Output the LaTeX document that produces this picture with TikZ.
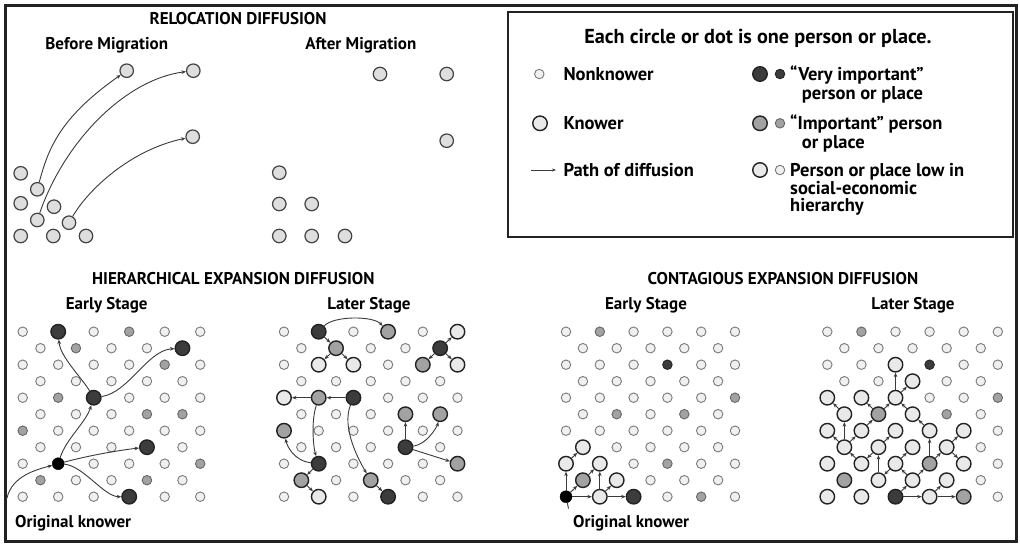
\documentclass[tikz,border=0pt]{standalone}
\usepackage{fontspec}
\setmainfont{PT Sans}
\usetikzlibrary{arrows.meta}
\definecolor{nfill}{HTML}{F0F0F0}
\definecolor{ndraw}{HTML}{7A7A7A}
\definecolor{gfill}{HTML}{A2A2A2}
\definecolor{gdraw}{HTML}{666666}
\definecolor{dfill}{HTML}{3C3C3C}
\definecolor{ddraw}{HTML}{222222}
\definecolor{kfill}{HTML}{E9E9E9}
\definecolor{rfill}{HTML}{DEDEDE}
\definecolor{arcol}{HTML}{3A3A3A}
\newcommand\lattice[4]{%
  \foreach \rowlist [count=\ri from 0] in {#4} {
    \foreach \ty [count=\ci from 0] in \rowlist {
      \pgfmathsetmacro\xx{#2+\ci*#3+mod(\ri,2)*#3/2}
      \pgfmathsetmacro\yy{331.7+\ri*16.5}
      \edef\tmp{\noexpand\node[d\ty] (#1-\ri-\ci) at (\xx,\yy) {};}\tmp
    }
  }
}
\begin{document}
\begin{tikzpicture}[x=1pt,y=-1pt,
  small/.style={circle,inner sep=0pt,minimum size=9.5pt,line width=0.9pt},
  big/.style={circle,inner sep=0pt,minimum size=14.5pt,line width=1.4pt,draw=ddraw},
  dn/.style={small,draw=ndraw,fill=nfill},
  dng/.style={small,draw=gdraw,fill=gfill},
  dnd/.style={small,draw=ddraw,fill=dfill},
  dK/.style={big,fill=kfill},
  dKg/.style={big,fill=gfill},
  dKd/.style={big,fill=dfill},
  dB/.style={circle,inner sep=0pt,minimum size=12pt,fill=black,draw=black},
  rel/.style={circle,inner sep=0pt,minimum size=13.5pt,line width=1.2pt,draw=ddraw!85,fill=rfill},
  ar/.style={draw=arcol,line width=0.9pt,-{Stealth[length=4.5pt,width=3.6pt]}},
  ln/.style={draw=arcol,line width=0.9pt},
  txt/.style={font=\fontsize{17}{19}\selectfont\bfseries,inner sep=0pt},
  lgt/.style={font=\fontsize{18.5}{21}\selectfont\bfseries,inner sep=0pt},
  ttl/.style={font=\fontsize{20.2}{23}\selectfont\bfseries,inner sep=0pt}]
\useasboundingbox (0,0) rectangle (1020,544);
\fill[white] (0,0) rectangle (1020,544);
\draw[line width=2.8pt,draw=ddraw] (5.5,5.5) rectangle (1016.5,541.5);
% ---------- relocation ----------
\node[txt] (relT) at (238,18.3) {RELOCATION DIFFUSION};
\node[txt] (befT) at (106.7,45) {Before Migration};
\node[txt] (aftT) at (360.8,45) {After Migration};
\node[rel] (b1) at (20.7,173.3) {};
\node[rel] (b2) at (37.3,189.3) {};
\node[rel] (b3) at (20.7,203.3) {};
\node[rel] (b4) at (54,206.7) {};
\node[rel] (b5) at (37.3,220) {};
\node[rel] (b6) at (69,222.7) {};
\node[rel] (b7) at (20.7,236) {};
\node[rel] (b8) at (53.3,236) {};
\node[rel] (b9) at (86,236) {};
\node[rel] (t1) at (126.7,70.7) {};
\node[rel] (t2) at (193.3,70.7) {};
\node[rel] (t3) at (192.7,136.7) {};
\draw[ar] (b2) .. controls (48,150) and (58.7,118.3) .. (t1);
\draw[ar] (b5) .. controls (65,140) and (126.3,79.3) .. (t2);
\draw[ar] (b6) .. controls (88,190) and (130,150) .. (t3);
\node[rel] (a1) at (279.3,172.7) {};
\node[rel] (a2) at (279.3,204) {};
\node[rel] (a3) at (311.7,204) {};
\node[rel] (a4) at (279.3,236) {};
\node[rel] (a5) at (311.7,236) {};
\node[rel] (a6) at (345,236) {};
\node[rel] (a7) at (380,74) {};
\node[rel] (a8) at (446.7,74) {};
\node[rel] (a9) at (446.7,140.7) {};
% ---------- legend ----------
\draw[line width=2pt,draw=ddraw] (508.3,11.7) rectangle (1012.7,236.7);
\node[ttl] (legT) at (758,38.3) {Each circle or dot is one person or place.};
\node[dn] (lg1) at (539.3,74) {};
\node[dK] (lg2) at (540,123.3) {};
\coordinate (pa1) at (531,170);
\coordinate (pa2) at (556,170);
\draw[ar,line width=0.7pt,-{Stealth[length=4pt,width=3pt]}] (pa1) -- (pa2);
\node[lgt,anchor=base west] (lt1) at (563.3,80.3) {Nonknower};
\node[lgt,anchor=base west] (lt2) at (563.3,129.6) {Knower};
\node[lgt,anchor=base west] (lt3) at (563.3,176.3) {Path of diffusion};
\node[dKd] (lg3) at (760,74) {};
\node[dnd] (lg4) at (780,74) {};
\node[dKg] (lg5) at (760,123.3) {};
\node[dng] (lg6) at (780,123.3) {};
\node[dK] (lg7) at (760,170) {};
\node[dn] (lg8) at (780,170) {};
\node[lgt,anchor=base west] (rt1) at (790,80.3) {“Very important”};
\node[lgt,anchor=base west] (rt2) at (801.7,99) {person or place};
\node[lgt,anchor=base west] (rt3) at (790,129.6) {“Important” person};
\node[lgt,anchor=base west] (rt4) at (801.7,148) {or place};
\node[lgt,anchor=base west] (rt5) at (790,176.3) {Person or place low in};
\node[lgt,anchor=base west] (rt6) at (790,194.6) {social-economic};
\node[lgt,anchor=base west] (rt7) at (790,211.3) {hierarchy};
% ---------- section titles ----------
\node[txt] (hierT) at (233.3,278.3) {HIERARCHICAL EXPANSION DIFFUSION};
\node[txt] (contT) at (783,278.3) {CONTAGIOUS EXPANSION DIFFUSION};
\node[txt] (h1T) at (106.7,305) {Early Stage};
\node[txt] (h2T) at (369,305) {Later Stage};
\node[txt] (c1T) at (646,305) {Early Stage};
\node[txt] (c2T) at (913,305) {Later Stage};
% ---------- lattices ----------
\lattice{H1}{22.7}{35.5}{{n,Kd,n,ng,n,n},{n,ng,n,n,Kd},{n,n,n,n,ng,n},{n,n,n,n,n},{n,ng,Kd,n,n,n},{n,n,n,ng,ng},{ng,n,n,n,n,n},{n,n,n,Kd,n},{n,B,n,n,n,ng},{ng,n,n,ng,n},{n,n,n,Kd,n,n}}
\lattice{H2}{284}{34.7}{{n,Kd,n,Kg,n,K},{n,Kg,n,n,Kd},{n,K,K,n,Kg,K},{n,n,n,n,n},{K,Kg,Kd,n,n,n},{n,n,n,Kg,Kg},{Kg,n,n,n,n,n},{n,n,n,Kd,n},{n,Kd,n,n,n,Kg},{Kg,n,Kg,n,n},{n,K,n,Kd,n,n}}
\lattice{C1}{566}{33.8}{{n,ng,n,n,n,n},{n,n,n,n,n},{n,n,n,nd,n,n},{n,n,n,n,n},{n,n,n,n,n,ng},{n,ng,n,ng,n},{n,n,n,n,n,n},{K,n,n,n,n},{K,K,n,ng,n,n},{Kg,K,n,n,n},{B,K,Kd,n,ng,n}}
\lattice{C2}{827.3}{34.1}{{n,ng,n,n,n,n},{n,n,n,n,n},{n,n,K,nd,n,n},{n,n,K,n,n},{K,K,K,n,n,ng},{K,Kg,K,ng,n},{K,K,K,K,K,n},{K,K,K,K,n},{K,K,K,Kg,K,n},{Kg,K,K,K,n},{K,K,Kd,K,Kg,n}}
% ---------- hierarchical early arrows ----------
\coordinate (ext) at (7,498);
\draw[ar] (ext) .. controls +(5,-22) and +(-22,6) .. (H1-8-1);
\draw[ar] (H1-8-1) .. controls +(8,-25) and +(-8,25) .. (H1-4-2);
\draw[ar] (H1-4-2) .. controls +(-12,-20) and +(2,25) .. (H1-0-1);
\draw[ar] (H1-4-2) .. controls +(35,-5) and +(-35,2) .. (H1-1-4);
\draw[ar] (H1-8-1) .. controls +(30,-8) and +(-28,3) .. (H1-7-3);
\draw[ar] (H1-8-1) .. controls +(25,2) and +(-25,0) .. (H1-10-3);
\node[txt,anchor=west] (ok1) at (15,523) {Original knower};
% ---------- hierarchical later arrows ----------
\draw[ar] (H2-0-1) .. controls +(15,-16) and +(-15,-16) .. (H2-0-3);
\draw[ar] (H2-0-1) -- (H2-1-1);
\draw[ar] (H2-1-1) -- (H2-2-1);
\draw[ar] (H2-1-1) -- (H2-2-2);
\draw[ar] (H2-1-4) -- (H2-0-5);
\draw[ar] (H2-1-4) -- (H2-2-4);
\draw[ar] (H2-1-4) -- (H2-2-5);
\draw[ar] (H2-4-2) -- (H2-4-1);
\draw[ar] (H2-4-1) -- (H2-4-0);
\draw[ar] (H2-4-1) .. controls +(-8,25) and +(-5,-15) .. (H2-8-1);
\draw[ar] (H2-4-2) .. controls +(-12,30) and +(-12,-20) .. (H2-9-2);
\draw[ar] (H2-8-1) .. controls +(-25,-3) and +(3,15) .. (H2-6-0);
\draw[ar] (H2-8-1) -- (H2-9-0);
\draw[ar] (H2-9-0) -- (H2-10-1);
\draw[ar] (H2-9-2) -- (H2-10-3);
\draw[ar] (H2-7-3) -- (H2-5-3);
\draw[ar] (H2-7-3) .. controls +(22,-3) and +(-3,12) .. (H2-5-4);
\draw[ar] (H2-7-3) -- (H2-8-5);
% ---------- contagious early arrows ----------
\draw[ar] (C1-10-0) -- (C1-8-0);
\draw[ar] (C1-10-0) -- (C1-10-1);
\draw[ar] (C1-10-0) -- (C1-9-0);
\draw[ar] (C1-10-1) -- (C1-10-2);
\draw[ar] (C1-10-1) -- (C1-8-1);
\draw[ar] (C1-10-1) -- (C1-9-1);
\draw[ar] (C1-8-0) -- (C1-7-0);
\draw[ar] (C1-9-0) -- (C1-8-1);
\node[txt,anchor=west] (ok2) at (573,523) {Original knower};
\coordinate (okp) at (568.5,508.5);
\draw[ln] (okp) -- (C1-10-0);
% ---------- contagious later arrows ----------
\draw[ar] (C2-10-2) -- (C2-10-3);
\draw[ar] (C2-10-3) -- (C2-10-4);
\draw[ar] (C2-10-2) -- (C2-9-2);
\draw[ar] (C2-10-3) -- (C2-9-3);
\draw[ar] (C2-9-2) -- (C2-8-2);
\draw[ar] (C2-9-2) -- (C2-8-3);
\draw[ar] (C2-8-3) -- (C2-6-3);
\draw[ar] (C2-8-3) -- (C2-7-3);
\draw[ar] (C2-7-3) -- (C2-6-4);
\draw[ar] (C2-7-3) -- (C2-8-4);
\draw[ar] (C2-8-2) -- (C2-7-2);
\draw[ar] (C2-8-2) -- (C2-9-1);
\draw[ar] (C2-9-1) -- (C2-7-1);
\draw[ar] (C2-7-1) -- (C2-8-1);
\draw[ar] (C2-7-1) -- (C2-6-2);
\draw[ar] (C2-6-3) -- (C2-5-2);
\draw[ar] (C2-6-1) -- (C2-5-1);
\draw[ar] (C2-8-1) -- (C2-7-0);
\draw[ar] (C2-7-0) -- (C2-5-0);
\draw[ar] (C2-7-0) -- (C2-6-0);
\draw[ar] (C2-7-0) -- (C2-6-1);
\draw[ar] (C2-5-0) -- (C2-4-0);
\draw[ar] (C2-5-1) -- (C2-4-1);
\draw[ar] (C2-5-1) -- (C2-4-2);
\draw[ar] (C2-5-2) -- (C2-4-2);
\draw[ar] (C2-4-2) -- (C2-3-2);
\draw[ar] (C2-4-2) -- (C2-2-2);
\end{tikzpicture}
\end{document}
